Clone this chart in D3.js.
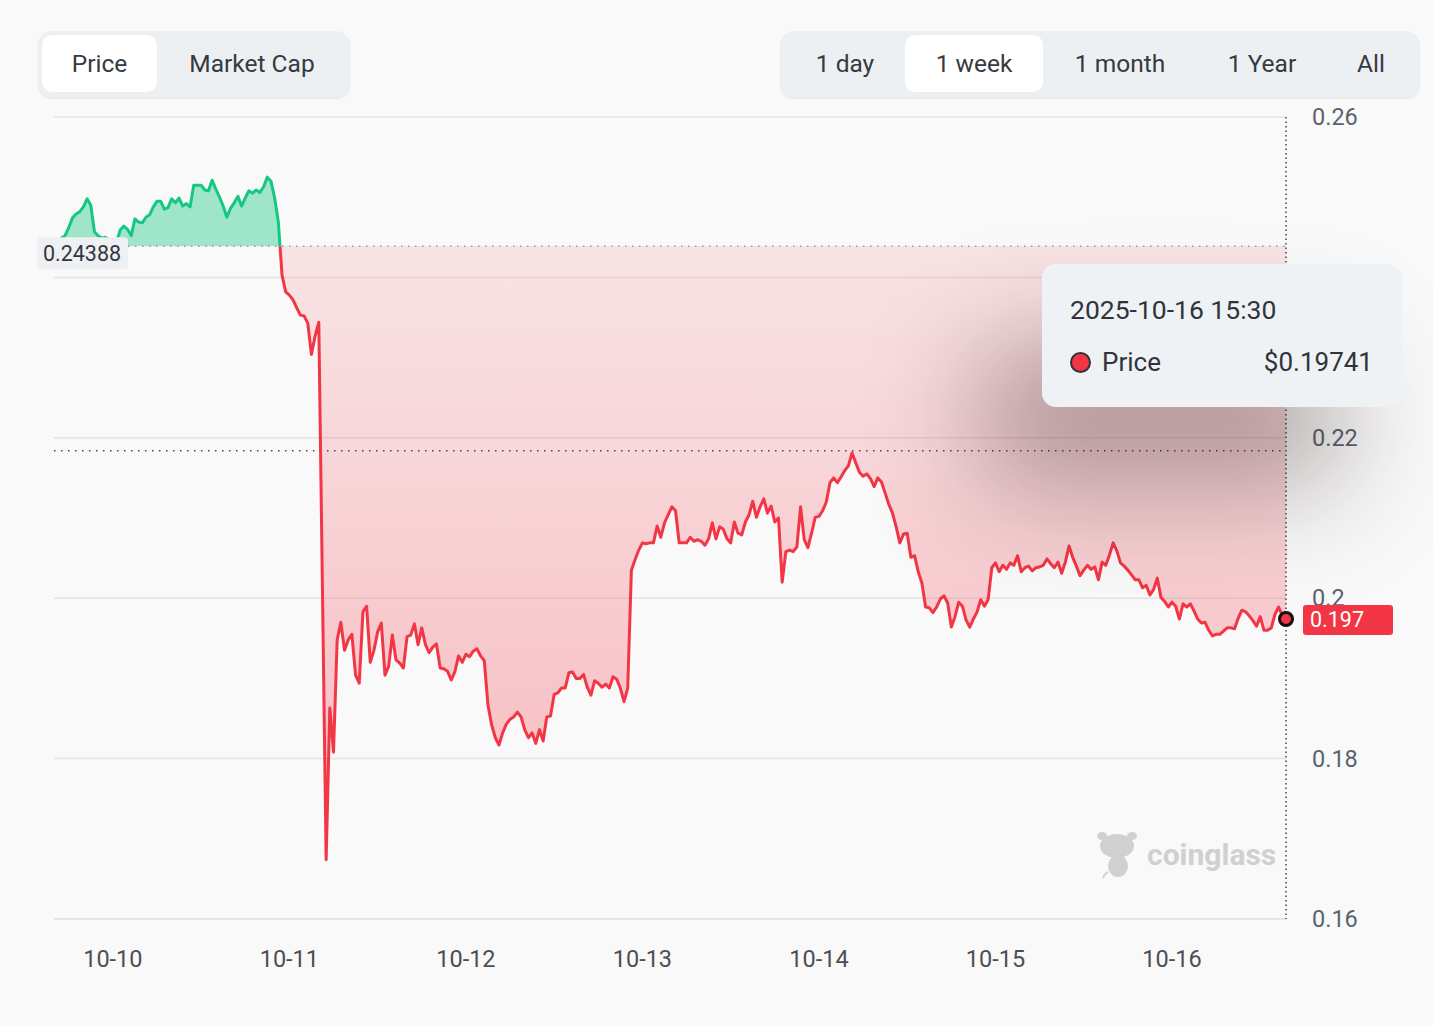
<!DOCTYPE html>
<html>
<head>
<meta charset="utf-8">
<script src="https://cdn.jsdelivr.net/npm/d3@7"></script>
<style>
  body { margin: 0; background: #f9f9f9; font-family: Roboto, "Noto Sans", sans-serif; }
  #wrap { position: relative; width: 1433px; height: 1026px; overflow: hidden; }
  svg { position: absolute; left: 0; top: 0; }
  .tabs { position: absolute; top: 31px; height: 66px; background: #edf0f3; border-radius: 14px;
          box-shadow: 0 2px 2px rgba(0,0,0,0.07); }
  .tab { position: absolute; top: 4px; height: 57px; line-height: 58px; text-align: center;
         font-size: 24.5px; color: #353a40; border-radius: 10px; }
  .tab.active { background: #fff; }
  #tooltip { position: absolute; left: 1042px; top: 264px; width: 360px; height: 143px;
             background: #eef2f5; border-radius: 14px; color: #30343a;
             box-shadow: -60px 80px 110px rgba(40,20,20,0.34); }
</style>
</head>
<body>
<div id="wrap">
  <svg id="chart" width="1433" height="1026"></svg>
  <div id="tooltip"></div>
</div>
<script>
// --- data -------------------------------------------------------------
const startTime = "2025-10-09 16:00";
const intervalMinutes = 30;
const basePrice = 0.24388;      // reference price for the period
const crosshairPrice = 0.2184;  // hover position of the horizontal crosshair
const prices = [
  // 10-09 16:00 .. 23:30
  0.2447,0.2445,0.2449,0.2452,0.2462,0.2474,0.2479,0.2482,0.2488,0.2498,0.2490,0.2457,0.2452,0.2449,0.2450,0.2447,
  // 10-10
  0.2443,0.2444,0.2459,0.2464,0.2460,0.2452,0.2473,0.2469,0.2468,0.2475,0.2478,0.2488,0.2495,0.2495,0.2485,0.2487,
  0.2498,0.2493,0.2499,0.2489,0.2492,0.2488,0.2515,0.2515,0.2515,0.2509,0.2508,0.2521,0.2510,0.2500,0.2489,0.2475,
  0.2486,0.2493,0.2501,0.2489,0.2499,0.2508,0.2505,0.2509,0.2506,0.2513,0.2525,0.2520,0.2499,0.2469,0.2403,0.2382,
  // 10-11
  0.2378,0.2372,0.2362,0.2353,0.2352,0.2343,0.2304,0.2327,0.2344,0.2010,0.1674,0.1863,0.1808,0.1948,0.1970,0.1935,
  0.1948,0.1955,0.1904,0.1894,0.1983,0.1990,0.1920,0.1935,0.1958,0.1969,0.1904,0.1915,0.1954,0.1923,0.1919,0.1913,
  0.1952,0.1954,0.1968,0.1942,0.1963,0.1942,0.1932,0.1939,0.1943,0.1913,0.1912,0.1909,0.1898,0.1908,0.1928,0.1920,
  // 10-12
  0.1930,0.1927,0.1934,0.1937,0.1928,0.1922,0.1867,0.1842,0.1826,0.1817,0.1832,0.1843,0.1849,0.1852,0.1858,0.1852,
  0.1836,0.1826,0.1832,0.1819,0.1836,0.1822,0.1852,0.1853,0.1880,0.1882,0.1888,0.1888,0.1907,0.1908,0.1900,0.1900,
  0.1905,0.1889,0.1879,0.1897,0.1894,0.1889,0.1893,0.1888,0.1902,0.1899,0.1888,0.1871,0.1888,0.2035,0.2048,0.2060,
  // 10-13
  0.2069,0.2068,0.2069,0.2069,0.2090,0.2076,0.2094,0.2104,0.2114,0.2109,0.2069,0.2069,0.2069,0.2076,0.2071,0.2073,
  0.2071,0.2066,0.2074,0.2094,0.2074,0.2089,0.2086,0.2074,0.2069,0.2095,0.2081,0.2079,0.2095,0.2104,0.2121,0.2101,
  0.2114,0.2124,0.2106,0.2115,0.2095,0.2100,0.2020,0.2058,0.2060,0.2058,0.2064,0.2114,0.2073,0.2063,0.2081,0.2101,
  // 10-14
  0.2102,0.2109,0.2120,0.2144,0.2150,0.2144,0.2151,0.2159,0.2165,0.2181,0.2169,0.2157,0.2152,0.2155,0.2149,0.2139,
  0.2150,0.2145,0.2131,0.2117,0.2106,0.2089,0.2069,0.2080,0.2081,0.2051,0.2053,0.2033,0.2019,0.1989,0.1988,0.1982,
  0.1989,0.1999,0.2003,0.1994,0.1964,0.1977,0.1995,0.1990,0.1973,0.1964,0.1974,0.1983,0.1998,0.1990,0.1998,0.2038,
  // 10-15
  0.2044,0.2033,0.2041,0.2036,0.2044,0.2041,0.2053,0.2033,0.2038,0.2040,0.2034,0.2038,0.2039,0.2041,0.2049,0.2043,
  0.2038,0.2045,0.2031,0.2045,0.2065,0.2051,0.2040,0.2028,0.2035,0.2041,0.2036,0.2039,0.2023,0.2045,0.2041,0.2054,
  0.2069,0.2059,0.2044,0.2040,0.2035,0.2029,0.2023,0.2023,0.2013,0.2016,0.2004,0.2011,0.2025,0.2001,0.1996,0.1989,
  // 10-16 00:00 .. 15:30
  0.1995,0.1990,0.1974,0.1993,0.1989,0.1993,0.1984,0.1974,0.1969,0.1970,0.1960,0.1953,0.1955,0.1955,0.1959,0.1963,
  0.1963,0.1962,0.1975,0.1985,0.1983,0.1978,0.1972,0.1965,0.1977,0.1960,0.1960,0.1963,0.1980,0.1989,0.1978,0.19741
];
const yTickValues = [0.16, 0.18, 0.2, 0.22, 0.24, 0.26];
const chartTabs = ["Price", "Market Cap"];
const rangeTabs = ["1 day", "1 week", "1 month", "1 Year", "All"];

const green = "#16c784", red = "#f23645";
const plot = { left: 54, right: 1286, top: 117, bottom: 919 };

const parseTime = d3.timeParse("%Y-%m-%d %H:%M");
const t0 = parseTime(startTime);
const series = prices.map((p, i) => ({ t: d3.timeMinute.offset(t0, i * intervalMinutes), p }));
const last = series[series.length - 1];

const x = d3.scaleTime().domain([series[0].t, last.t]).range([plot.left, plot.right]);
const y = d3.scaleLinear().domain([0.16, 0.26]).range([plot.bottom, plot.top]);
const yBase = y(basePrice);

const svg = d3.select("#chart");
const defs = svg.append("defs");

const redGrad = defs.append("linearGradient").attr("id", "redFill")
  .attr("gradientUnits", "userSpaceOnUse").attr("x1", 0).attr("x2", 0)
  .attr("y1", yBase).attr("y2", plot.bottom);
redGrad.append("stop").attr("offset", 0).attr("stop-color", red).attr("stop-opacity", 0.11);
redGrad.append("stop").attr("offset", 1).attr("stop-color", red).attr("stop-opacity", 0.34);

defs.append("clipPath").attr("id", "clipUp").append("rect")
  .attr("x", 0).attr("y", 0).attr("width", 1433).attr("height", yBase);
defs.append("clipPath").attr("id", "clipDown").append("rect")
  .attr("x", 0).attr("y", yBase).attr("width", 1433).attr("height", 1026 - yBase);

// grid
svg.append("g").selectAll("line").data(yTickValues).join("line")
  .attr("x1", plot.left).attr("x2", plot.right)
  .attr("y1", d => y(d)).attr("y2", d => y(d))
  .attr("stroke", d => d === 0.16 ? "#dcdcdc" : "#e4e4e4").attr("stroke-width", 1.5);

// areas
const area = d3.area().x(d => x(d.t)).y0(yBase).y1(d => y(d.p));
svg.append("path").datum(series).attr("d", area)
  .attr("fill", green).attr("fill-opacity", 0.4).attr("clip-path", "url(#clipUp)");
svg.append("path").datum(series).attr("d", area)
  .attr("fill", "url(#redFill)").attr("clip-path", "url(#clipDown)");

// baseline dotted
svg.append("line").attr("x1", 128).attr("x2", plot.right).attr("y1", yBase).attr("y2", yBase)
  .attr("stroke", "#9a9a9a").attr("stroke-width", 1.5).attr("stroke-dasharray", "1.5,5.5");

// crosshair
svg.append("line").attr("x1", plot.left).attr("x2", plot.right)
  .attr("y1", y(crosshairPrice)).attr("y2", y(crosshairPrice))
  .attr("stroke", "#444").attr("stroke-width", 1.5).attr("stroke-dasharray", "1.5,5.5");
svg.append("line").attr("x1", x(last.t)).attr("x2", x(last.t))
  .attr("y1", plot.top).attr("y2", plot.bottom)
  .attr("stroke", "#444").attr("stroke-width", 1.5).attr("stroke-dasharray", "1.5,3");

// price line
const line = d3.line().x(d => x(d.t)).y(d => y(d.p));
svg.append("path").datum(series).attr("d", line).attr("fill", "none")
  .attr("stroke", green).attr("stroke-width", 3).attr("stroke-linejoin", "round")
  .attr("clip-path", "url(#clipUp)");
svg.append("path").datum(series).attr("d", line).attr("fill", "none")
  .attr("stroke", red).attr("stroke-width", 3).attr("stroke-linejoin", "round")
  .attr("clip-path", "url(#clipDown)");

// y axis labels (right)
svg.append("g").selectAll("text").data(yTickValues).join("text")
  .attr("x", 1312).attr("y", d => y(d)).attr("dy", "0.35em")
  .attr("font-size", 23.5).attr("fill", "#5b6270")
  .text(d => String(+d.toFixed(2)));

// x axis labels
svg.append("g").selectAll("text").data(x.ticks(d3.timeDay.every(1))).join("text")
  .attr("x", d => x(d)).attr("y", 959).attr("dy", "0.35em").attr("text-anchor", "middle")
  .attr("font-size", 23.5).attr("fill", "#4a4f58")
  .text(d3.timeFormat("%m-%d"));

// base price tag
const baseTag = svg.append("g");
baseTag.append("rect").attr("x", 37).attr("y", yBase - 9).attr("width", 91).attr("height", 32)
  .attr("rx", 4).attr("fill", "#eef0f3");
baseTag.append("text").attr("x", 82).attr("y", yBase + 7).attr("dy", "0.35em")
  .attr("text-anchor", "middle").attr("font-size", 21.5).attr("fill", "#33373d")
  .text(String(basePrice));

// last price tag + marker (drawn over the 0.2 tick label, as in the source)
const lastY = y(last.p);
svg.append("rect").attr("x", 1303).attr("y", lastY - 14).attr("width", 90).attr("height", 30)
  .attr("rx", 3).attr("fill", red);
svg.append("text").attr("x", 1310).attr("y", lastY + 1).attr("dy", "0.35em")
  .attr("font-size", 21.5).attr("fill", "#fff").text(last.p.toFixed(3));
svg.append("circle").attr("cx", x(last.t)).attr("cy", lastY).attr("r", 6.5)
  .attr("fill", red).attr("stroke", "#111").attr("stroke-width", 3);

// watermark
const wm = svg.append("g").attr("fill", "#d0d0d0");
wm.append("ellipse").attr("cx", 1117).attr("cy", 846).attr("rx", 17).attr("ry", 12);
wm.append("ellipse").attr("cx", 1102).attr("cy", 836).attr("rx", 5).attr("ry", 4);
wm.append("ellipse").attr("cx", 1132).attr("cy", 836).attr("rx", 5).attr("ry", 4);
wm.append("ellipse").attr("cx", 1118).attr("cy", 866).attr("rx", 10).attr("ry", 11);
wm.append("path").attr("d", "M1108,872 q-6,4 -4,6").attr("stroke", "#d0d0d0").attr("stroke-width", 2).attr("fill", "none");
wm.append("text").attr("x", 1147).attr("y", 865).attr("font-size", 30).attr("font-weight", 700)
  .attr("font-family", "Roboto, sans-serif").text("coinglass");

// tab groups
function tabs(left, width, labels, centers, active) {
  const box = d3.select("#wrap").append("div").attr("class", "tabs")
    .style("left", left + "px").style("width", width + "px");
  labels.forEach((l, i) => {
    box.append("div").attr("class", "tab" + (i === active.index ? " active" : ""))
      .style("left", (i === active.index ? active.left : centers[i] - 80) - left + "px")
      .style("width", (i === active.index ? active.width : 160) + "px")
      .text(l);
  });
}
tabs(38, 312, chartTabs, [100, 252], { index: 0, left: 42, width: 115 });
tabs(780, 640, rangeTabs, [845, 974, 1120, 1262, 1371], { index: 1, left: 905, width: 138 });

// tooltip
const tip = d3.select("#tooltip");
tip.append("div").style("position", "absolute").style("left", "28px").style("top", "30px")
  .style("font-size", "26.5px").text(d3.timeFormat("%Y-%m-%d %H:%M")(last.t));
tip.append("div").style("position", "absolute").style("left", "28px").style("top", "88px")
  .style("width", "17px").style("height", "17px").style("border-radius", "50%")
  .style("background", red).style("border", "2.5px solid #30343a");
tip.append("div").style("position", "absolute").style("left", "60px").style("top", "83px")
  .style("font-size", "26px").text("Price");
tip.append("div").style("position", "absolute").style("right", "29px").style("top", "83px")
  .style("font-size", "26px").text("$" + last.p.toFixed(5));
</script>
</body>
</html>
